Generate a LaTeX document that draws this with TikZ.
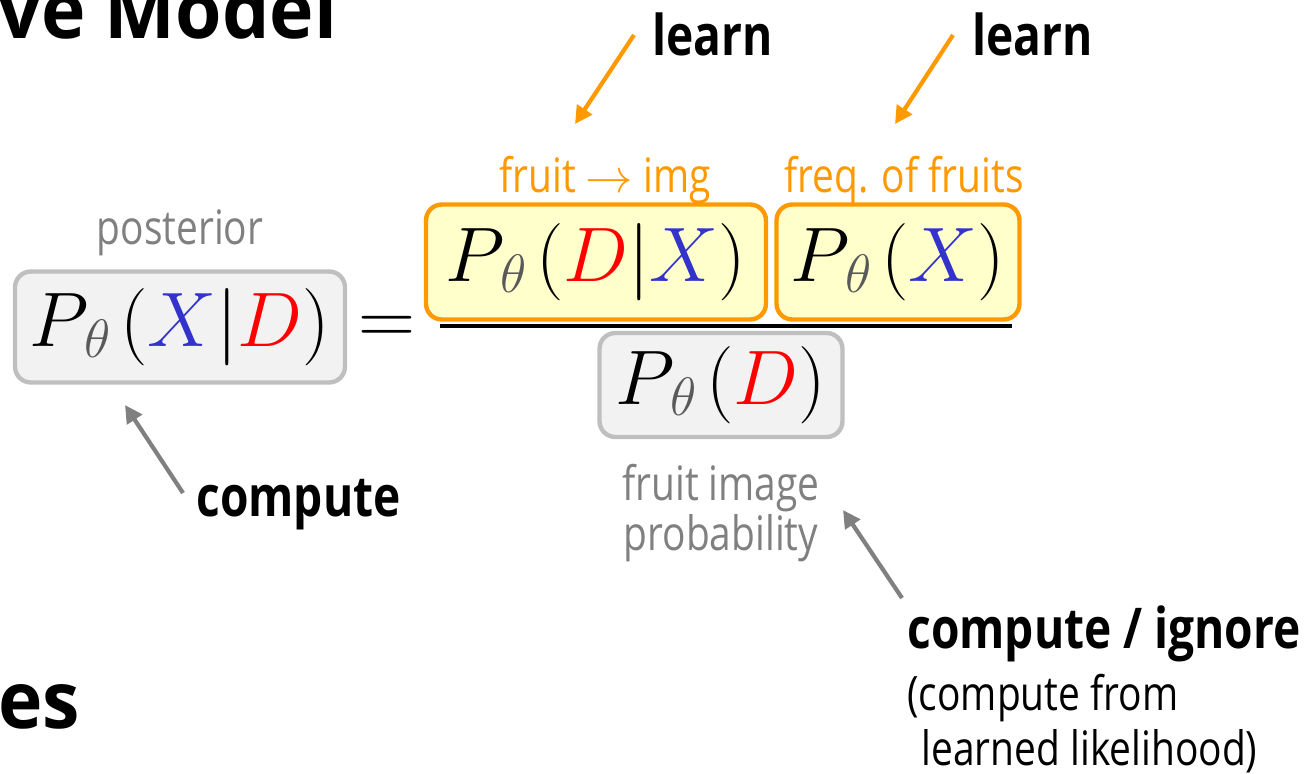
\documentclass[tikz,border=0pt]{standalone}
\usepackage{fix-cm}
\usepackage{fontspec}
\setmainfont{Open Sans}[FakeStretch=0.82]
\newfontfamily\titlefont{Open Sans}[FakeStretch=0.95]
\usetikzlibrary{positioning, calc, arrows.meta}

\definecolor{orng}{HTML}{FF9900}
\definecolor{fillyel}{HTML}{FFFFCC}
\definecolor{fillgray}{HTML}{F2F2F2}
\definecolor{boxgray}{HTML}{BFBFBF}
\definecolor{txtgray}{HTML}{808080}
\definecolor{thgray}{HTML}{595959}
\definecolor{varblue}{HTML}{3333CC}
\definecolor{varred}{HTML}{FF0000}

\newcommand{\probP}{P_{\mkern2mu\textcolor{thgray}{\theta}}\mkern2mu}
\newcommand{\vX}{\textcolor{varblue}{X}}
\newcommand{\vD}{\textcolor{varred}{D}}

\begin{document}
\begin{tikzpicture}[x=0.02cm, y=-0.02cm,
  %% caixas cinzas (calculadas)
  gbox/.style={
    rectangle, draw=boxgray, line width=2.5pt, rounded corners=9pt,
    fill=fillgray, inner sep=0pt,
    font=\fontsize{44}{50}\selectfont
  },
  %% caixas laranjas (aprendidas)
  obox/.style={
    gbox, draw=orng, fill=fillyel
  },
  %% textos finos
  note/.style={inner sep=0pt, text=txtgray, align=center,
    font=\fontsize{27}{28}\selectfont},
  %% textos em negrito
  tag/.style={inner sep=0pt, font=\bfseries\fontsize{32}{38}\selectfont},
  %% setas
  arr/.style={-{Triangle[length=10pt,width=10pt]}, line width=2.4pt}
]
\useasboundingbox (0,0) rectangle (1316,774);

%% ================================================================
%% TITULOS (cortados)
%% ================================================================
\node[inner sep=0pt, anchor=base west, font=\titlefont\bfseries\fontsize{45}{50}\selectfont]
  (title) at (-2,38) {ve Model};
\node[inner sep=0pt, anchor=base west, font=\titlefont\bfseries\fontsize{45}{50}\selectfont]
  (subtitle) at (-2,728) {es};

%% ================================================================
%% EQUACAO
%% ================================================================
\node[gbox, minimum width=6.6cm, minimum height=2.22cm] (post) at (180,327)
  {$\probP(\vX|\vD)$};

\node[font=\fontsize{45}{50}\selectfont, inner sep=0pt] (eq) at (387,330) {$=$};

\node[obox, minimum width=6.8cm, minimum height=2.3cm] (lik) at (596,262)
  {$\probP(\vD|\vX)$};
\node[obox, minimum width=4.86cm, minimum height=2.3cm] (prior) at (898,262)
  {$\probP(\vX)$};

%% barra da fracao
\coordinate (fracl) at (440,326);
\coordinate (fracr) at (1012,326);
\draw[line width=2.4pt] (fracl) -- (fracr);

\node[gbox, minimum width=4.86cm, minimum height=2.08cm] (evid) at (721,385)
  {$\probP(\vD)$};

%% ================================================================
%% ROTULOS
%% ================================================================
\node[note, above=0.26cm of post] (postlbl) {posterior};
\node[note, text=orng, above=-0.04cm of lik, xshift=0.18cm] (liklbl)
  {fruit $\rightarrow$ img};
\node[note, text=orng, above=-0.04cm of prior, xshift=0.12cm] (priorlbl)
  {freq. of fruits};
\node[note, below=0.5cm of evid] (evidlbl) {fruit image\\probability};

%% ================================================================
%% ANOTACOES E SETAS
%% ================================================================
\node[tag, anchor=base west] (learn1) at (652,55) {learn};
\node[tag, anchor=base west] (learn2) at (972,55) {learn};
\node[tag, anchor=base west] (comp) at (196,516) {compute};
\node[tag, anchor=base west] (compign) at (907,648) {compute / ignore};
\node[note, text=black, align=left, anchor=north west,
      font=\fontsize{27}{31}\selectfont] (compnote) at (907,674)
  {(compute from\\\hspace{0.3em}learned likelihood)};

\coordinate (l1tail) at (634,35);
\coordinate (l1tip)  at (575,124);
\coordinate (l2tail) at (953,35);
\coordinate (l2tip)  at (895,124);
\coordinate (ctail)  at (183,493);
\coordinate (ctip)   at (125,405);
\coordinate (citail) at (902,598);
\coordinate (citip)  at (843,510);

\draw[arr, orng] (l1tail) -- (l1tip);
\draw[arr, orng] (l2tail) -- (l2tip);
\draw[arr, txtgray] (ctail) -- (ctip);
\draw[arr, txtgray] (citail) -- (citip);

\end{tikzpicture}
\end{document}
